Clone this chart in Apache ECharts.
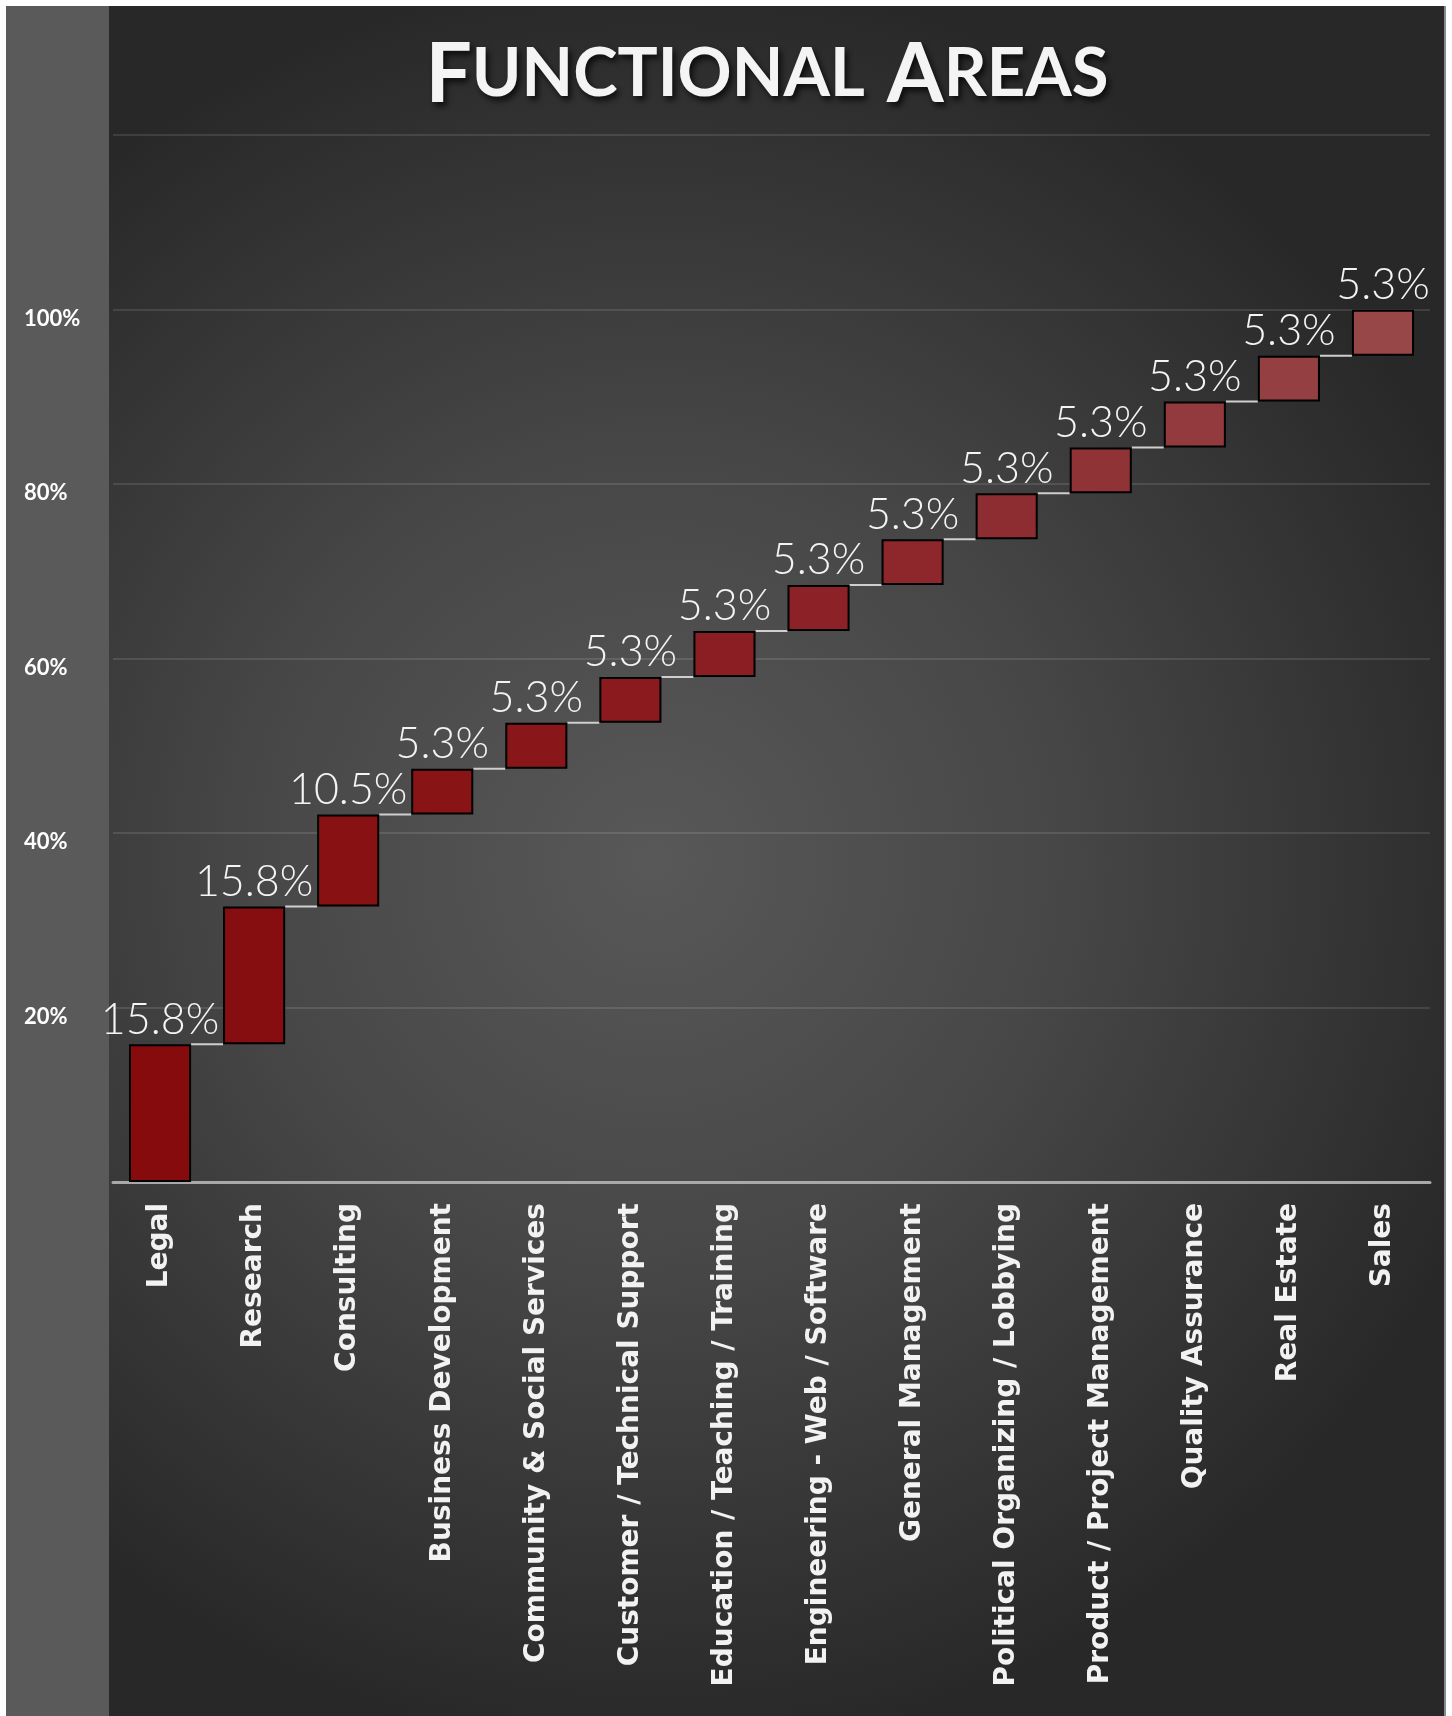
<!DOCTYPE html>
<html><head><meta charset="utf-8">
<script src="https://cdn.jsdelivr.net/npm/echarts@6/dist/echarts.min.js"></script>
<style>html,body{margin:0;padding:0;background:#fff}#c{width:1452px;height:1716px}</style>
</head><body><div id="c"></div>
<script>
const categories = ['Legal','Research','Consulting','Business Development','Community & Social Services','Customer / Technical Support','Education / Teaching / Training','Engineering - Web / Software','General Management','Political Organizing / Lobbying','Product / Project Management','Quality Assurance','Real Estate','Sales'];
const shares = [15.79,15.79,10.53,5.26,5.26,5.26,5.26,5.26,5.26,5.26,5.26,5.26,5.26,5.26];
const yTickLabels = [20,40,60,80,100];
const barColors = ['#850b0d','#860e10','#871113','#881416','#891719','#8a1a1d','#8b1e22','#8c2227','#8d272c','#8e2d31','#903337','#923a3d','#944042','#974747'];

const bases = []; let run = 0;
shares.forEach(v => { bases.push(run); run += v; });
const tops = shares.map((v, i) => bases[i] + v);

const shadow = { textShadowColor: 'rgba(0,0,0,0.75)', textShadowBlur: 6, textShadowOffsetX: 3, textShadowOffsetY: 4 };

const chart = echarts.init(document.getElementById('c'));
chart.setOption({
  animation: false,
  backgroundColor: '#ffffff',
  graphic: [
    { type: 'rect', z: -100, silent: true, shape: { x: 6, y: 6, width: 1439, height: 1710 },
      style: { fill: new echarts.graphic.RadialGradient(0.45, 0.5, 0.62, [
        { offset: 0, color: '#585858' }, { offset: 0.45, color: '#474747' }, { offset: 1, color: '#282828' }]) } },
    { type: 'rect', z: -99, silent: true, shape: { x: 6, y: 6, width: 103, height: 1710 }, style: { fill: '#5a5a5b' } },
    { type: 'rect', z: -99, silent: true, shape: { x: 1444, y: 6, width: 2, height: 1710 }, style: { fill: '#8a8a8a' } }
  ],
  title: {
    text: '{a|F}{b|UNCTIONAL}{s| }{a|A}{b|REAS}',
    left: 762, top: 30, textAlign: 'center',
    textStyle: {
      rich: {
        a: Object.assign({ fontFamily: 'Lato', fontWeight: 'bold', fontSize: 82, color: '#f4f4f4' }, shadow),
        b: Object.assign({ fontFamily: 'Lato', fontWeight: 'bold', fontSize: 67, color: '#f4f4f4', padding: [0, 0, 3, 0] }, shadow),
        s: { fontFamily: 'Lato', fontSize: 67, width: 22 }
      }
    }
  },
  grid: { left: 113, right: 22, top: 135, bottom: 534, containLabel: false },
  xAxis: {
    type: 'category', data: categories,
    axisLine: { lineStyle: { color: '#a9a9a9', width: 3 } },
    axisTick: { show: false },
    axisLabel: { interval: 0, rotate: 90, margin: 21, color: '#f2f2f2', fontFamily: 'DejaVu Sans', fontWeight: 'bold', fontSize: 28 }
  },
  yAxis: {
    type: 'value', min: 0, max: 120, interval: 20,
    axisLine: { show: false }, axisTick: { show: false },
    splitLine: { lineStyle: { color: 'rgba(255,255,255,0.11)', width: 2 } },
    axisLabel: {
      align: 'left', verticalAlign: 'top', lineHeight: 18, margin: 89, color: '#ffffff', fontFamily: 'Lato', fontWeight: 'bold', fontSize: 22,
      formatter: v => yTickLabels.indexOf(v) >= 0 ? v + '%' : ''
    }
  },
  series: [
    { type: 'bar', stack: 'w', data: bases, barWidth: '66%', silent: true,
      itemStyle: { color: 'rgba(0,0,0,0)', borderWidth: 0 } },
    { type: 'bar', stack: 'w', barWidth: '66%',
      data: shares.map((v, i) => ({ value: v, itemStyle: { color: barColors[i] } })),
      itemStyle: { borderColor: '#000000', borderWidth: 2 },
      label: { show: true, position: 'top', distance: 3, color: '#f4f4f4', fontFamily: 'Lato', fontWeight: 300, fontSize: 43,
               formatter: p => p.value.toFixed(1) + '%' } },
    { type: 'custom', data: tops.slice(0, -1).map((t, i) => [i, t]), encode: { x: 0, y: 1 }, z: 1, silent: true,
      renderItem: (params, api) => {
        const p1 = api.coord([api.value(0), api.value(1)]);
        const p2 = api.coord([api.value(0) + 1, api.value(1)]);
        const half = api.size([1, 0])[0] * 0.33;
        return { type: 'line', shape: { x1: p1[0] + half, y1: p1[1], x2: p2[0] - half, y2: p1[1] },
                 style: { stroke: '#cfcfcf', lineWidth: 2 } };
      } }
  ]
});
</script></body></html>
